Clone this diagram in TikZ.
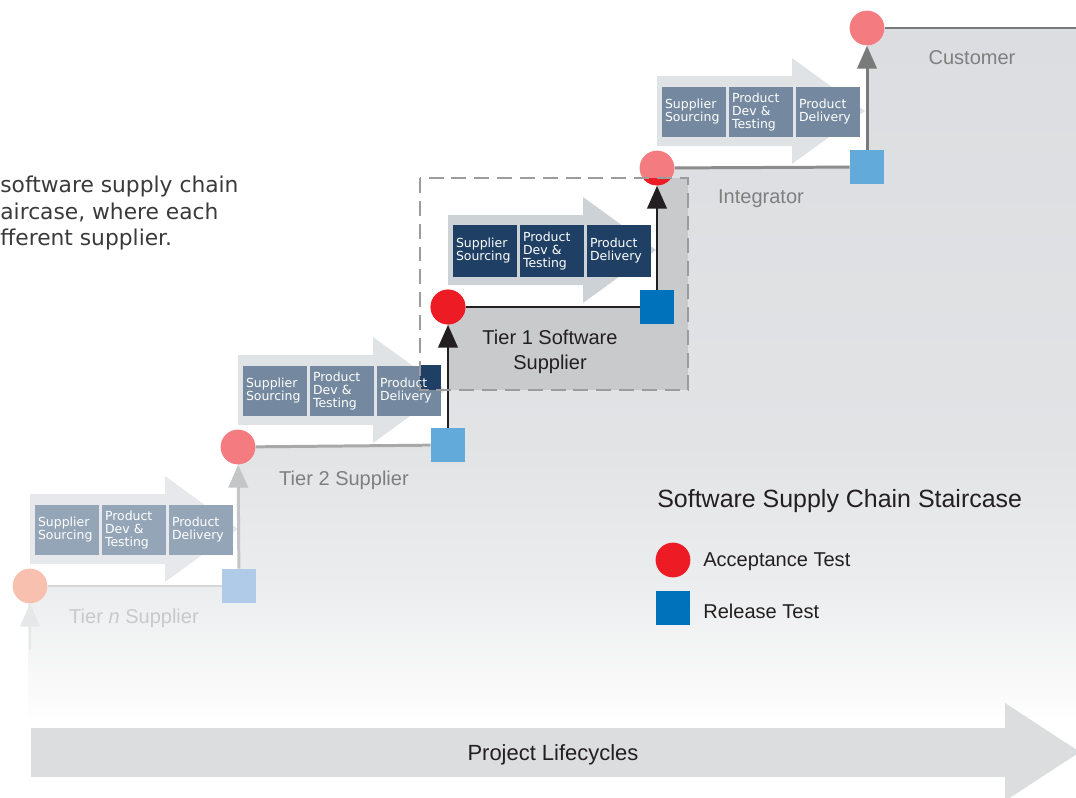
\documentclass[tikz,border=0pt]{standalone}
\usepackage{fontspec}
\setmainfont{Liberation Sans}
\newfontfamily\boxfont{DejaVu Sans}
\usetikzlibrary{arrows.meta}

% stair colours
\definecolor{stairtop}{HTML}{DCDDE0}
\definecolor{stairmid}{HTML}{E2E3E5}
\definecolor{stairlow}{HTML}{ECEDEE}
\definecolor{stairend}{HTML}{FBFBFB}
\definecolor{lensgray}{HTML}{C9CACC}
\definecolor{dashgray}{HTML}{9C9C9C}
\definecolor{lifegray}{HTML}{DCDDDF}
\definecolor{ink}{HTML}{231F20}
\definecolor{parink}{HTML}{3A3A3A}
\definecolor{labelgray}{HTML}{7F7F7F}
\definecolor{labelpale}{HTML}{C8C9CB}
% tests
\definecolor{accN}{HTML}{F8C1AF}
\definecolor{acc2}{HTML}{F47B80}
\definecolor{acc1}{HTML}{ED1C24}
\definecolor{relN}{HTML}{AFCBE7}
\definecolor{rel2}{HTML}{62AADA}
\definecolor{rel1}{HTML}{0072BC}
% connectors
\definecolor{startN}{HTML}{E6E7E9}
\definecolor{lineN}{HTML}{D6D6D6}
\definecolor{upN}{HTML}{C4C5C7}
\definecolor{line2}{HTML}{A8A8A8}
\definecolor{lineI}{HTML}{8C8C8C}
\definecolor{upI}{HTML}{7A7A7A}
% process flows
\definecolor{flowN}{HTML}{E6E8EB}
\definecolor{boxN}{HTML}{95A5B8}
\definecolor{flow2}{HTML}{E0E3E6}
\definecolor{box2}{HTML}{74899F}
\definecolor{flow1}{HTML}{CDD2D6}
\definecolor{box1}{HTML}{1F4064}

% only 25bp..75bp of the shading covers the path
\pgfdeclareverticalshading{stairfade}{100bp}{color(0bp)=(white); color(25bp)=(white);
  color(26.5bp)=(stairend); color(34.5bp)=(stairlow); color(45bp)=(stairmid);
  color(75bp)=(stairtop); color(100bp)=(stairtop)}

\begin{document}
\begin{tikzpicture}[x=0.02cm,y=-0.02cm,>={Triangle[length=13pt,width=11pt]},
  acctest/.style={circle,minimum size=19.8pt,inner sep=0pt,
    path picture={\fill[acc1] (t1nw) rectangle (t1se);}},
  reltest/.style={rectangle,minimum size=19.3pt,inner sep=0pt},
  flowbox/.style={rectangle,minimum width=36.3pt,minimum height=28.9pt,inner sep=0pt,
    text width=33pt,align=left,text=white,font=\boxfont\fontsize{7.1}{7.4}\selectfont,
    path picture={\fill[box1] (t1nw) rectangle (t1se);}},
  stairline/.style={line width=1.7pt},
  steplabel/.style={font=\fontsize{11.4}{14}\selectfont,text=labelgray}]

\useasboundingbox (0,0) rectangle (1076,798);
\clip (0,0) rectangle (1076,798);

% tier 1 frame corners
\coordinate (t1nw) at (420,178);
\coordinate (t1se) at (688,390);

% staircase
\shade[shading=stairfade] (28,586) -- (238,586) -- (238,447) -- (448,447) -- (448,307)
  -- (657,307) -- (657,168) -- (867,168) -- (867,28) -- (1076,28) -- (1076,720)
  -- (28,720) -- cycle;
\fill[lensgray] (448,307) rectangle (688,390);
\fill[lensgray] (657,178) rectangle (688,307);

% project lifecycle arrow
\fill[lifegray] (31,728) -- (1005,728) -- (1005,703) -- (1080,752) -- (1005,801)
  -- (1005,777) -- (31,777) -- cycle;
\node[font=\fontsize{12.5}{15}\selectfont,text=ink] (life) at (553,755) {Project Lifecycles};

% process flow on every step
\foreach \cx/\cy/\bg/\bx/\t in {30/586/flowN/boxN/N, 238/447/flow2/box2/2,
    448/307/flow1/box1/1, 657/168/flow2/box2/I} {
  \fill[\bg] (\cx,\cy-92) -- (\cx+135,\cy-92) -- (\cx+135,\cy-110) -- (\cx+208,\cy-57)
    -- (\cx+135,\cy-4) -- (\cx+135,\cy-22) -- (\cx,\cy-22) -- cycle;
  \node[flowbox,fill=\bx] (src-\t) at (\cx+37,\cy-56) {Supplier\\Sourcing};
  \node[flowbox,fill=\bx] (dev-\t) at (\cx+104,\cy-56) {Product\\Dev \&\\Testing};
  \node[flowbox,fill=\bx] (del-\t) at (\cx+171,\cy-56) {Product\\Delivery};
}

% tests
\node[acctest,fill=accN] (accN) at (30,586) {};
\node[reltest,fill=relN] (relN) at (239,586) {};
\node[acctest,fill=acc2] (acc2) at (238,447) {};
\node[reltest,fill=rel2] (rel2) at (448,445) {};
\node[acctest,fill=acc1] (acc1) at (448,307) {};
\node[reltest,fill=rel1] (rel1) at (657,307) {};
\node[acctest,fill=acc2] (accI) at (657,168) {};
\node[reltest,fill=rel2] (relI) at (867,167) {};
\node[acctest,fill=acc2] (accC) at (867,28) {};
\coordinate (startN) at (30,650);
\coordinate (custEnd) at (1076,28);

% steps
\draw[->,stairline,startN] (startN) -- (accN);
\draw[stairline,lineN] (accN) -- (relN);
\draw[->,stairline,upN] (relN) -- (acc2);
\draw[stairline,line2] (acc2) -- (rel2);
\draw[->,stairline,ink] (rel2) -- (acc1);
\draw[stairline,ink] (acc1) -- (rel1);
\draw[->,stairline,ink] (rel1) -- (accI);
\draw[stairline,lineI] (accI) -- (relI);
\draw[->,stairline,upI] (relI) -- (accC);
\draw[stairline,upI] (accC) -- (custEnd);

\draw[dashgray,line width=1.4pt,dash pattern=on 8.5pt off 4.5pt] (t1nw) rectangle (t1se);

% step labels
\node[steplabel,text=labelpale] (tierN) at (134,618) {Tier \textit{n} Supplier};
\node[steplabel] (tier2) at (344,480) {Tier 2 Supplier};
\node[steplabel,text=ink,align=center] (tier1) at (550,352) {Tier 1 Software\\Supplier};
\node[steplabel] (integ) at (761,199) {Integrator};
\node[steplabel] (cust) at (972,58) {Customer};

% intro text
\node[anchor=west,inner sep=0pt,align=left,text=parink,
  font=\boxfont\fontsize{12.4}{15.3}\selectfont] (intro) at (0,213)
  {software supply chain\\aircase, where each\\fferent supplier.};

% legend
\node[anchor=west,inner sep=0pt,text=ink,font=\fontsize{14.2}{17}\selectfont] (legtitle)
  at (657,501) {Software Supply Chain Staircase};
\node[acctest,fill=acc1] (legacc) at (673,560) {};
\node[anchor=west,inner sep=0pt,text=ink,font=\fontsize{11.4}{14}\selectfont] (legacctxt)
  at (703,562) {Acceptance Test};
\node[reltest,fill=rel1] (legrel) at (673,608) {};
\node[anchor=west,inner sep=0pt,text=ink,font=\fontsize{11.4}{14}\selectfont] (legreltxt)
  at (703,611) {Release Test};
\end{tikzpicture}
\end{document}
